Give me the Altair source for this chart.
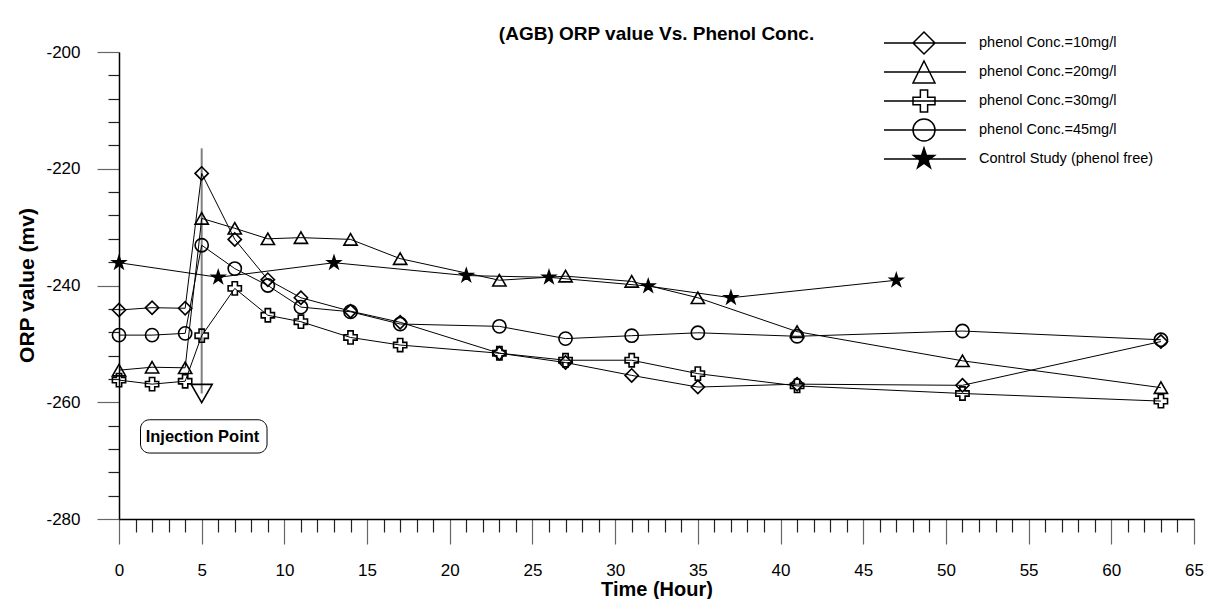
import altair as alt
import pandas as pd

# ---------------- data ----------------
hours = [0, 2, 4, 5, 7, 9, 11, 14, 17, 23, 27, 31, 35, 41, 51, 63]
orp_10 = [-244.2, -243.8, -243.9, -220.8, -232.1, -239.0, -242.1, -244.4, -246.3,
          -251.6, -253.2, -255.4, -257.4, -256.9, -257.1, -249.6]
orp_20 = [-254.5, -254.0, -254.1, -228.5, -230.2, -232.0, -231.8, -232.1, -235.4,
          -239.1, -238.4, -239.3, -242.1, -247.9, -252.9, -257.5]
orp_30 = [-256.2, -256.9, -256.4, -248.6, -240.5, -245.1, -246.2, -248.9, -250.2,
          -251.6, -252.8, -252.8, -255.1, -257.2, -258.5, -259.8]
orp_45 = [-248.5, -248.5, -248.2, -233.1, -237.1, -240.0, -243.7, -244.5, -246.6,
          -247.0, -249.1, -248.6, -248.1, -248.7, -247.8, -249.3]
control_hours = [0, 6, 13, 21, 26, 32, 37, 47]
orp_control = [-236.1, -238.6, -236.1, -238.3, -238.6, -240.1, -242.1, -239.1]

series_names = ["phenol Conc.=10mg/l", "phenol Conc.=20mg/l", "phenol Conc.=30mg/l",
                "phenol Conc.=45mg/l", "Control Study (phenol free)"]

# injection annotation
inj_hour = [5]
inj_line_top = [-216.5]
inj_marker = [-258.5]
inj_box_x = [1.3]
inj_box_x2 = [8.95]
inj_box_y = [-263.0]
inj_box_y2 = [-268.7]
inj_label_x = [5.05]
inj_label_y = [-265.9]
inj_label = ["Injection Point"]

# ---------------- tables ----------------
rows = []
for name, ys in zip(series_names[:4], [orp_10, orp_20, orp_30, orp_45]):
    for h, v in zip(hours, ys):
        rows.append({"series": name, "hour": h, "orp": v})
for h, v in zip(control_hours, orp_control):
    rows.append({"series": series_names[4], "hour": h, "orp": v})
df = pd.DataFrame(rows)

inj_df = pd.DataFrame({"hour": inj_hour, "top": inj_line_top, "marker": inj_marker})
box_df = pd.DataFrame({"x1": inj_box_x, "x2": inj_box_x2, "y1": inj_box_y, "y2": inj_box_y2})
lab_df = pd.DataFrame({"hx": inj_label_x, "hy": inj_label_y, "txt": inj_label})

# ---------------- shapes ----------------
STAR = ("M0,-1L0.2245,-0.309L0.9511,-0.309L0.3633,0.118L0.5878,0.809L0,0.382"
        "L-0.5878,0.809L-0.3633,0.118L-0.9511,-0.309L-0.2245,-0.309Z")
DIAMOND = "M-1,0L0,-1L1,0L0,1Z"
TRI = "M0,-1L1,1L-1,1Z"
CROSS = ("M-0.33,-1L0.33,-1L0.33,-0.33L1,-0.33L1,0.33L0.33,0.33L0.33,1L-0.33,1"
         "L-0.33,0.33L-1,0.33L-1,-0.33L-0.33,-0.33Z")
CIRCLE = "M1,0A1,1,0,1,1,-1,0A1,1,0,1,1,1,0Z"
LINE = "M-3.64,0L3.82,0"

data_shapes = ["diamond", "triangle-up", "cross", "circle", STAR]
legend_shapes = [LINE + p for p in [DIAMOND, TRI, CROSS, CIRCLE, STAR]]
fills = ["transparent", "transparent", "transparent", "transparent", "black"]
strokes = ["black", "black", "black", "black", "black"]

FONT = "Liberation Sans"

xscale = alt.Scale(domain=[0, 65], nice=False, zero=False)
yscale = alt.Scale(domain=[-280, -200], nice=False, zero=False)

xaxis = alt.Axis(
    values=list(range(0, 66)),
    labelExpr="datum.value % 5 === 0 ? '' + datum.value : ''",
    tickSize={"condition": {"test": "datum.value % 5 === 0", "value": 25}, "value": 13},
    tickColor={"condition": {"test": "datum.value % 5 === 0", "value": "#666666"}, "value": "#222222"},
    tickWidth=1.2,
    domainColor="black", domainWidth=1.5,
    labelFont=FONT, labelFontSize=17, labelColor="black", labelPadding=18,
    labelFlush=False, labelOverlap=False,
    grid=False,
    title="Time (Hour)", titleFont=FONT, titleFontSize=20, titleFontWeight="bold",
    titleColor="black", titleY=70, titleBaseline="middle",
)
yaxis = alt.Axis(
    values=list(range(-280, -199, 4)),
    labelExpr="datum.value % 20 === 0 ? '' + datum.value : ''",
    tickSize={"condition": {"test": "datum.value % 20 === 0", "value": 22}, "value": 11},
    tickColor={"condition": {"test": "datum.value % 20 === 0", "value": "#666666"}, "value": "#222222"},
    tickWidth=1.2,
    domainColor="black", domainWidth=1.5,
    labelFont=FONT, labelFontSize=17, labelColor="black", labelPadding=17,
    labelFlush=False, labelOverlap=False,
    grid=False,
    title="ORP value (mv)", titleFont=FONT, titleFontSize=21, titleFontWeight="bold",
    titleColor="black", titleX=-92, titleY=233, titleAngle=270,
    titleAlign="center", titleBaseline="middle",
)


def X(field):
    return alt.X(field, type="quantitative", scale=xscale, axis=xaxis)


def Y(field):
    return alt.Y(field, type="quantitative", scale=yscale, axis=yaxis)


lines = alt.Chart(df).mark_line(color="black", strokeWidth=1).encode(
    x=X("hour"), y=Y("orp"), detail="series:N", order="hour:Q"
)

points = alt.Chart(df).mark_point(stroke="black", strokeWidth=1.6, size=175, opacity=1).encode(
    x=X("hour"), y=Y("orp"),
    shape=alt.Shape("series:N", scale=alt.Scale(domain=series_names, range=data_shapes), legend=None),
    fill=alt.Fill("series:N", scale=alt.Scale(domain=series_names, range=fills), legend=None),
)

legend_opts = dict(title=None, orient="none", legendX=793, legendY=-21,
                   symbolSize=484, symbolOpacity=1,
                   symbolStrokeWidth=1.5, labelOffset=43,
                   labelFont=FONT, labelFontSize=14.5, labelColor="black", rowPadding=1,
                   padding=0, labelLimit=300)

# legend-only layer: no data rows drawn, the explicit scale domains keep the entries
legend_layer = alt.Chart(df).transform_filter("datum.hour < -1000").mark_point(
    strokeWidth=1.5, size=484, opacity=1
).encode(
    x=X("hour"), y=Y("orp"),
    shape=alt.Shape("series:N", scale=alt.Scale(domain=series_names, range=legend_shapes),
                    legend=alt.Legend(**legend_opts)),
    fill=alt.Fill("series:N", scale=alt.Scale(domain=series_names, range=fills),
                  legend=alt.Legend(**legend_opts)),
    stroke=alt.Stroke("series:N", scale=alt.Scale(domain=series_names, range=strokes),
                      legend=alt.Legend(**legend_opts)),
)

inj_rule = alt.Chart(inj_df).mark_rule(color="#808080", strokeWidth=2).encode(
    x=X("hour"), y=Y("top"), y2="marker"
)
inj_tri = alt.Chart(inj_df).mark_point(shape="triangle-down", size=441, stroke="black",
                                        strokeWidth=1.6, fill="transparent", opacity=1).encode(
    x=X("hour"), y=Y("marker")
)
inj_box = alt.Chart(box_df).mark_rect(cornerRadius=9, fill="white", stroke="black",
                                      strokeWidth=1).encode(
    x=X("x1"), x2="x2", y=Y("y1"), y2="y2"
)
inj_text = alt.Chart(lab_df).mark_text(font=FONT, fontSize=16.5, fontWeight="bold",
                                       color="black", align="center",
                                       baseline="middle").encode(
    x=X("hx"), y=Y("hy"), text="txt:N"
)

chart = alt.layer(
    inj_rule, lines, points, inj_tri, inj_box, inj_text, legend_layer
).resolve_scale(
    shape="independent", fill="independent", stroke="independent"
).properties(
    width=1075, height=467,
    title=alt.TitleParams("(AGB) ORP value Vs. Phenol Conc.", font=FONT, fontSize=19,
                          fontWeight="bold", anchor="middle", offset=-13, color="black",
                          frame="group"),
    autosize=alt.AutoSizeParams(type="none"),
    padding={"left": 111, "top": 44, "right": 10, "bottom": 80},
).configure_view(stroke=None)

chart.save("out.html", embed_options={"renderer": "svg", "actions": False})
